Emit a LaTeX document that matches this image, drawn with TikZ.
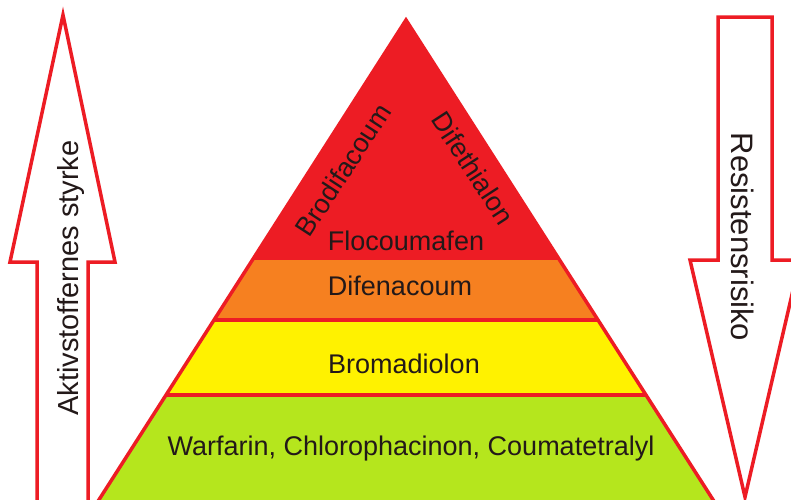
\documentclass[tikz,border=0pt]{standalone}
\usepackage{fontspec}
\setmainfont{Liberation Sans}
\definecolor{rline}{RGB}{237,28,36}
\definecolor{lred}{RGB}{237,28,36}
\definecolor{lorange}{RGB}{246,128,32}
\definecolor{lyellow}{RGB}{255,242,0}
\definecolor{lgreen}{RGB}{181,230,29}
\definecolor{txt}{RGB}{35,25,25}
\begin{document}
\begin{tikzpicture}[x=1pt,y=-1pt,
  outline/.style={draw=rline, line width=3.5pt, line join=miter},
  sep/.style={draw=rline, line width=3.5pt},
  lbl/.style={font=\fontsize{27}{30}\selectfont, text=txt, inner sep=0pt},
  vlbl/.style={font=\fontsize{29}{32}\selectfont, text=txt, inner sep=0pt}]
\useasboundingbox (0,0) rectangle (791,499);
\clip (0,0) rectangle (791,499);
\fill[white] (0,0) rectangle (791,499);
% left arrow (up)
\draw[outline, fill=white] (63,15) -- (115,262) -- (88,262) -- (88,530) -- (37,530) -- (37,262) -- (10,262) -- cycle;
% right arrow (down)
\draw[outline, fill=white] (718,17) -- (772,17) -- (772,260) -- (800,260) -- (745,497) -- (690,260) -- (718,260) -- cycle;
% pyramid layers
\coordinate (apex) at (406,20);
\coordinate (a1) at (253.7,258); \coordinate (b1) at (558.3,258);
\coordinate (a2) at (214,320);   \coordinate (b2) at (598,320);
\coordinate (a3) at (166,395);   \coordinate (b3) at (646,395);
\coordinate (a4) at (86,520);    \coordinate (b4) at (726,520);
\fill[lred] (apex) -- (b1) -- (a1) -- cycle;
\fill[lorange] (a1) -- (b1) -- (b2) -- (a2) -- cycle;
\fill[lyellow] (a2) -- (b2) -- (b3) -- (a3) -- cycle;
\fill[lgreen] (a3) -- (b3) -- (b4) -- (a4) -- cycle;
\draw[sep] (a1) -- (b1);
\draw[sep] (a2) -- (b2);
\draw[sep] (a3) -- (b3);
\draw[outline] (a4) -- (apex) -- (b4);
% labels
\node[lbl, anchor=base] (flo) at (406,250) {Flocoumafen};
\node[lbl, anchor=base] (dif) at (400,295) {Difenacoum};
\node[lbl, anchor=base] (bro) at (404,373) {Bromadiolon};
\node[lbl, anchor=base] (war) at (411,455) {Warfarin, Chlorophacinon, Coumatetralyl};
\node[lbl, rotate=57] (brod) at (343,170) {Brodifacoum};
\node[lbl, rotate=-57] (dife) at (473,168) {Difethialon};
\node[vlbl, anchor=base, rotate=90] (akt) at (78,278) {Aktivstoffernes styrke};
\node[vlbl, font=\fontsize{31}{34}\selectfont, anchor=base, rotate=-90] (res) at (731,237) {Resistensrisiko};
\end{tikzpicture}
\end{document}
